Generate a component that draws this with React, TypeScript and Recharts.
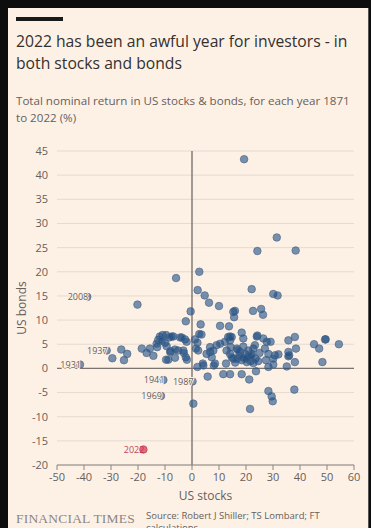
import React from "react";
import {
  ScatterChart,
  Scatter,
  XAxis,
  YAxis,
  CartesianGrid,
  ReferenceLine,
  Label,
} from "recharts";

// ---- Data ----
const stocks: number[] = [
  19.3, 31.4, 24.2, 38.4, -5.9, 2.7, 22.1, 30.1, 31.7, 2.1, 4.7, 6.3, 10, -0.5, 15.3, 15.9, 15.6,
  22.6, 25.6, 26.3, -2.3, 3.2, 10.4, 13.7, 3.5, 18.4, 24.2, 14.1, 38.1, 49.3, -20.2,
  -29.5, -26.2, -24, -25.2, -18.6, -16.8, -15.6, -14.3, -12.9, -12.5, -10.9, -9.6, -8.4, -6.9,
  -10, -9.4, -7.9, -9.6, -8.8, -6.3, -4.4, -2.6, -2, -3.2, -3, -2.3, -1.9, -13.1, -11.9, -11.2,
  -8.1, -5.1, -6.3, -7.5, -3.8,
  1.1, 2, 2.3, 2, 4.2, 5.8, 0.5, 2.7, 1.5, 4, 5.4, 6.7, 7.9, 7.3, 6.7, 8.5, 9.1, 10.4, 13.4, 14.1,
  12.8, 14.1, 12.6, 11.6, 14.1, 15.3, 12.2, 8.1,
  14.7, 14.3, 14.7, 19, 16.6, 17.8, 19.6, 20.9, 22.1, 22.7, 23.3, 16.6, 18.4, 20.3, 21.7, 22.7,
  24, 26.4, 27.7, 29.1, 27, 28.3, 27.4, 30.7, 32, 28.3, 30.1, 18.4, 21.2, 23.7, 35.1, 35.7, 35.7,
  36, 38.5, 38.1, 45.2, 47.1, 49.5, 54.4, 48.3, 37.9, 28.3, 29.5, 29.9, 21.5, 35.7, 30.1, 17.5,
  19, 21, 23.5, 25, 24.5, 16, 17, 19, 20, 22,
];
const bonds: number[] = [
  43.3, 27.1, 24.3, 24.4, 18.7, 20, 16.4, 15.4, 15.1, 16.2, 15.1, 13.6, 12.9, 11.8, 11.7, 11.9, 10.6,
  11.9, 12.3, 11.1, 9.75, 9.1, 8.8, 8.7, 7, 7.4, 6.8, 6.6, 6.5, 6.0, 13.2,
  2.1, 3.9, 3.0, 1.7, 4.1, 3.2, 4.1, 2.6, 4.4, 5.9, 6.9, 6.9, 6.4, 6.6,
  5.3, 4.6, 3.6, 1.8, 1.8, 2.2, 6.4, 6, 5.5, 3.7, 3.2, 2.3, 1.8, 5.1, 6.6, 5.7,
  3.4, 3.7, 3.9, 6.6, 6.4,
  6, 5.3, 3.7, 0.3, 0.6, -1.7, -7.3, 7.1, 4.1, 1, 3, 3.4, 3.7, 2.3, 4.4, 1, 4.8, 5.1, 6.5, 5.8,
  3.7, 3, 1, -1.2, -1.2, 2, 5.5, 0.6,
  6.5, 4.4, 2.3, 6.2, 4.1, 3.4, 3, 3.7, 3, 4.1, 4.8, 2, 1.7, 1.3, 1.5, 1.1,
  6.6, 6.2, 5.5, 5.5, 4.1, 3, 1.7, 2.7, 2.9, 0.3, 0.8, -1.2, -2.3, -0.6, 0.4, 5.8, 3.4,
  2.7, 4.1, 1.3, 5, 4.1, 6, 5, 1.3, -4.4, -4.7, -5.8, -6.8, -8.4, 2.5, 2, 2.6,
  2.2, 2.5, 2.0, 3.2, 1.5, 1.2, 3.8, 4.5, 2, 2.6,
];

const labelYears: string[] = ["1931", "1937", "1941", "1969", "1987", "2008"];
const labelStocks: number[] = [-41.5, -31.6, -10.6, -11.5, 0.2, -38.8];
const labelBonds: number[] = [0.8, 3.7, -2.4, -5.7, -2.7, 14.8];

const highlightYear = "2022";
const highlightStocks = -18;
const highlightBonds = -16.8;

const xTicks: number[] = [-50, -40, -30, -20, -10, 0, 10, 20, 30, 40, 50, 60];
const yTicks: number[] = [-20, -15, -10, -5, 0, 5, 10, 15, 20, 25, 30, 35, 40, 45];

const points = stocks.map((x, i) => ({ x, y: bonds[i] }));
const labelled = labelYears.map((year, i) => ({ x: labelStocks[i], y: labelBonds[i], year }));
const highlighted = [{ x: highlightStocks, y: highlightBonds, year: highlightYear }];

const FONT = "'Open Sans', 'Noto Sans', sans-serif";
const CREAM = "#fdf1e6";
const TEXT = "#66605c";

const Dot = (props: any) => {
  const { cx, cy } = props;
  return (
    <circle cx={cx} cy={cy} r={3.8} fill="#1d4f86" fillOpacity={0.6} stroke="#4a6283" strokeOpacity={0.8} strokeWidth={0.8} />
  );
};

const LabelledDot = (props: any) => {
  const { cx, cy, payload } = props;
  return (
    <g>
      <circle cx={cx} cy={cy} r={3.8} fill="#1d4f86" fillOpacity={0.6} stroke="#4a6283" strokeOpacity={0.8} strokeWidth={0.8} />
      <text
        x={cx + 1}
        y={cy}
        dy="0.35em"
        textAnchor="end"
        fontSize={9}
        fontFamily={FONT}
        fill={TEXT}
        stroke={CREAM}
        strokeWidth={2}
        paintOrder="stroke"
      >
        {payload.year}
      </text>
    </g>
  );
};

const RedDot = (props: any) => {
  const { cx, cy, payload } = props;
  return (
    <g>
      <text
        x={cx + 1}
        y={cy}
        dy="0.35em"
        textAnchor="end"
        fontSize={9}
        fontFamily={FONT}
        fill="#c2485a"
        stroke={CREAM}
        strokeWidth={2}
        paintOrder="stroke"
      >
        {payload.year}
      </text>
      <circle cx={cx} cy={cy} r={3.8} fill="#d3203f" fillOpacity={0.65} stroke="#c0304a" strokeWidth={0.6} />
    </g>
  );
};

export default function App() {
  return (
    <div
      style={{
        position: "absolute",
        left: 0,
        top: 0,
        width: 371,
        height: 528,
        background: "#0d0d0d",
        overflow: "hidden",
        fontFamily: FONT,
      }}
    >
      <div
        style={{
          position: "absolute",
          left: 8,
          top: 8,
          width: 360,
          height: 520,
          background: CREAM,
        }}
      />
      <div style={{ position: "absolute", left: 368, top: 8, width: 1, height: 520, background: "#555" }} />
      <div style={{ position: "absolute", left: 16, top: 17, width: 47, height: 4, background: "#1a1a1a" }} />
      <div
        style={{
          position: "absolute",
          left: 16,
          top: 30,
          width: 350,
          fontSize: 15.7,
          lineHeight: "22px",
          color: "#33302e",
          whiteSpace: "nowrap",
        }}
      >
        <div>2022 has been an awful year for investors - in</div>
        <div>both stocks and bonds</div>
      </div>
      <div
        style={{
          position: "absolute",
          left: 16,
          top: 92,
          width: 350,
          fontSize: 11.6,
          lineHeight: "17px",
          color: TEXT,
          whiteSpace: "nowrap",
        }}
      >
        <div>Total nominal return in US stocks &amp; bonds, for each year 1871</div>
        <div>to 2022 (%)</div>
      </div>

      <div style={{ position: "absolute", left: 0, top: 0 }}>
        <ScatterChart width={371} height={528} margin={{ top: 151, right: 17, bottom: 0, left: 0 }}>
          <CartesianGrid vertical={false} stroke="#e4dad0" strokeWidth={1} />
          <XAxis
            type="number"
            dataKey="x"
            domain={[-50, 60]}
            ticks={xTicks}
            interval={0}
            allowDataOverflow
            tick={{ fontSize: 11, fill: TEXT, fontFamily: FONT }}
            tickLine={{ stroke: "#8a8580" }}
            axisLine={{ stroke: "#8a8580" }}
            tickSize={5}
            tickMargin={3}
            height={63}
          >
            <Label value="US stocks" position="insideTop" offset={26} style={{ fontSize: 12, fill: TEXT, fontFamily: FONT }} />
          </XAxis>
          <YAxis
            type="number"
            dataKey="y"
            domain={[-20, 45]}
            ticks={yTicks}
            interval={0}
            allowDataOverflow
            width={57}
            tick={{ fontSize: 11, fill: TEXT, fontFamily: FONT }}
            tickLine={false}
            axisLine={false}
            tickMargin={3}
          >
            <Label
              value="US bonds"
              angle={-90}
              position="insideLeft"
              offset={22}
              style={{ fontSize: 12, fill: TEXT, fontFamily: FONT, textAnchor: "middle" }}
            />
          </YAxis>
          <ReferenceLine x={0} stroke="#7a736e" strokeWidth={1.4} />
          <ReferenceLine y={0} stroke="#7a736e" strokeWidth={1.4} />
          <Scatter data={points} shape={Dot} isAnimationActive={false} />
          <Scatter data={labelled} shape={LabelledDot} isAnimationActive={false} />
          <Scatter data={highlighted} shape={RedDot} isAnimationActive={false} />
        </ScatterChart>
      </div>

      <div
        style={{
          position: "absolute",
          left: 16,
          top: 511,
          fontFamily: "'Liberation Serif', 'DejaVu Serif', serif",
          fontSize: 13.5,
          color: "#8b8682",
          whiteSpace: "nowrap",
          letterSpacing: "0.2px",
        }}
      >
        FINANCIAL TIMES
      </div>
      <div
        style={{
          position: "absolute",
          left: 146,
          top: 510,
          fontSize: 9.5,
          lineHeight: "12px",
          color: TEXT,
          whiteSpace: "nowrap",
        }}
      >
        <div>Source: Robert J Shiller; TS Lombard; FT</div>
        <div>calculations</div>
      </div>
    </div>
  );
}
